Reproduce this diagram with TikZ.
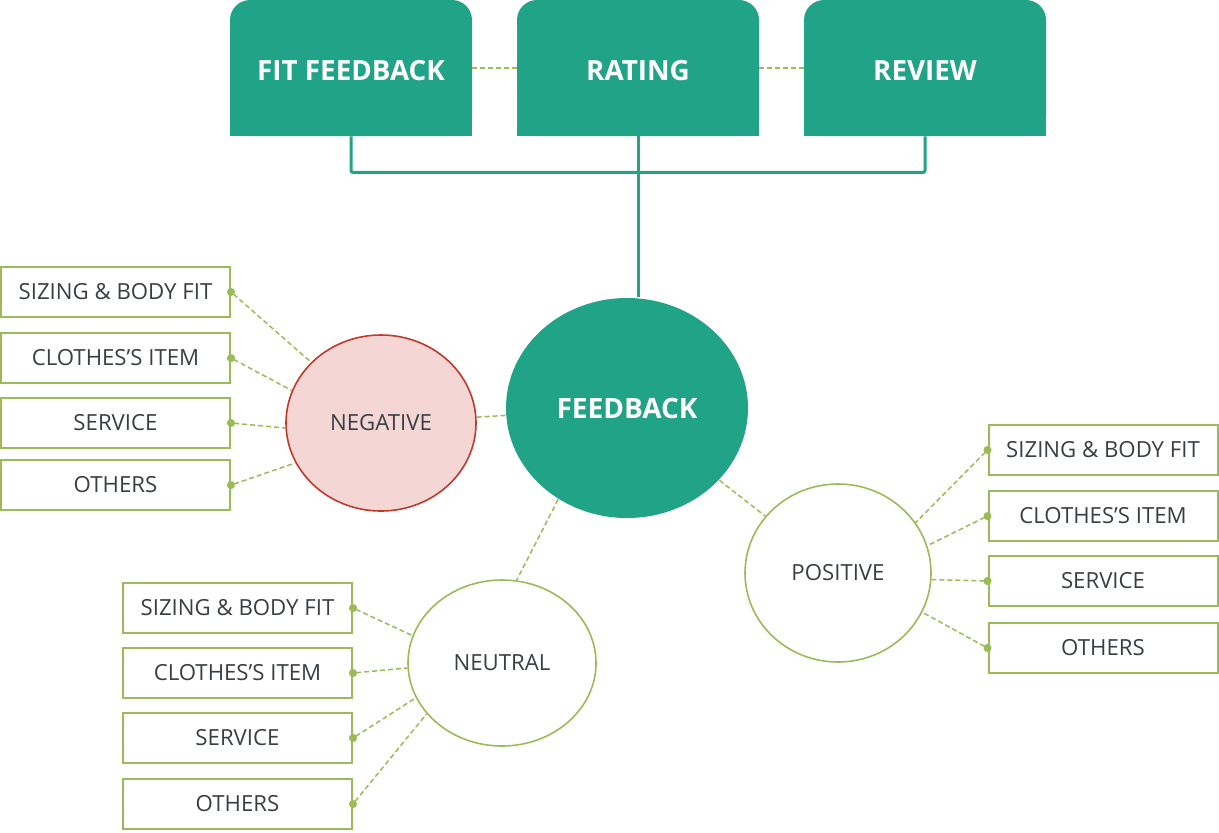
\documentclass[tikz,border=0pt]{standalone}
\usepackage{fontspec}
\setmainfont{Open Sans}
\usepackage{xcolor}
\usetikzlibrary{arrows.meta,positioning,shapes.geometric}

\definecolor{fbteal}{RGB}{32,163,134}
\definecolor{fbgreen}{RGB}{155,187,89}
\definecolor{fbred}{RGB}{192,57,43}
\definecolor{fbpink}{RGB}{244,214,213}
\definecolor{fbtext}{RGB}{58,63,68}

\begin{document}
\begin{tikzpicture}[
    x=0.5pt, y=-0.5pt,
    every node/.style={font=\fontsize{11.1}{13}\selectfont, text=fbtext},
    topbox/.style={fill=fbteal, rounded corners=10pt, inner sep=0pt,
        minimum width=121pt, minimum height=68pt, text=white, text height=12.9pt,
        font=\fontsize{13.9}{16}\selectfont\bfseries},
    leafbox/.style={draw=fbgreen, line width=1pt, fill=white, inner sep=0pt,
        minimum width=114.5pt, minimum height=25pt},
    mood/.style={ellipse, line width=0.8pt, inner sep=0pt},
    link/.style={draw=fbgreen, dash pattern=on 2.5pt off 1.5pt, line width=0.75pt},
    leafline/.style={link, {Circle[length=4pt]}-, shorten <=-2pt, fbgreen}
]
\useasboundingbox (0,0) rectangle (1219,832);

% Feedback sources
\node[topbox] (fit) at (351,68) {FIT FEEDBACK};
\node[topbox] (rating) at (638,68) {RATING};
\node[topbox] (review) at (925,68) {REVIEW};
\foreach \n in {fit,rating,review}
    \fill[fbteal] ([yshift=12pt]\n.south west) rectangle (\n.south east);

\draw[link] (fit) -- (rating);
\draw[link] (rating) -- (review);

% Central node
\node[mood, fill=fbteal, minimum width=121pt, minimum height=110pt,
    text=white, font=\fontsize{14}{16}\selectfont\bfseries] (feedback) at (627,408) {FEEDBACK};

\draw[fbteal, line width=1.5pt, rounded corners=1pt]
    (fit.south) |- ([yshift=-18pt]rating.south) -| (review.south);
\draw[fbteal, line width=1.5pt] (rating.south) -- (rating.south |- feedback.north);

% Sentiments
\node[mood, draw=fbred, fill=fbpink, minimum width=95pt, minimum height=88pt] (negative)
    at (381,423) {NEGATIVE};
\node[mood, draw=fbgreen, fill=white, minimum width=94pt, minimum height=83pt] (neutral)
    at (502,663) {NEUTRAL};
\node[mood, draw=fbgreen, fill=white, minimum width=93pt, minimum height=89pt] (positive)
    at (838,573) {POSITIVE};

\draw[link] (feedback) -- (negative);
\draw[link] (feedback.233) -- (neutral.80);
\draw[link] (feedback) -- (positive);

% Aspects
\foreach \y/\t [count=\i] in {292/SIZING \& BODY FIT, 358/CLOTHES’S ITEM, 423/SERVICE, 485/OTHERS}
    \node[leafbox] (neg\i) at (115.5,\y) {\t};
\foreach \y/\t [count=\i] in {608/SIZING \& BODY FIT, 673/CLOTHES’S ITEM, 738/SERVICE, 804/OTHERS}
    \node[leafbox] (neu\i) at (237.5,\y) {\t};
\foreach \y/\t [count=\i] in {450/SIZING \& BODY FIT, 516/CLOTHES’S ITEM, 581/SERVICE, 648/OTHERS}
    \node[leafbox] (pos\i) at (1103,\y) {\t};

\foreach \i/\a in {1/139, 2/160, 3/183, 4/205}
    \draw[leafline] (neg\i.east) -- (negative.\a);
\foreach \i/\a in {1/163, 2/183, 3/202, 4/214}
    \draw[leafline] (neu\i.east) -- (neutral.\a);
\foreach \i/\a in {1/33, 2/17, 3/-4, 4/-25}
    \draw[leafline] (pos\i.west) -- (positive.\a);

\end{tikzpicture}
\end{document}
